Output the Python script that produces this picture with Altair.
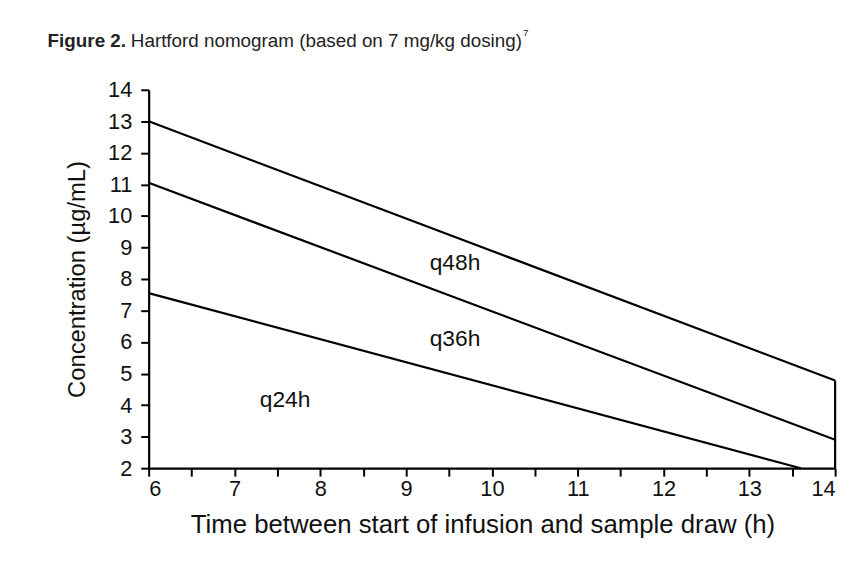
import altair as alt
import pandas as pd

# Nomogram boundary lines (time h, concentration µg/mL)
series = ["q48h upper", "q48h upper", "q36h upper", "q36h upper", "q24h upper", "q24h upper", "edge", "edge"]
times = [6, 14, 6, 14, 6, 13.6, 14, 14]
concs = [13.0, 4.78, 11.05, 2.9, 7.55, 2.0, 2.0, 4.78]

zone_labels = ["q48h", "q36h", "q24h"]
zone_x = [9.57, 9.57, 7.59]
zone_y = [8.5, 6.1, 4.15]

x_ticks = [6 + 0.5 * i for i in range(17)]
y_ticks = list(range(2, 15))

lines_df = pd.DataFrame({"series": series, "time": times, "conc": concs})
labels_df = pd.DataFrame({"label": zone_labels, "time": zone_x, "conc": zone_y})

FONT = "Liberation Sans"

x_enc = alt.X(
    "time:Q",
    scale=alt.Scale(domain=[6, 14], nice=False, zero=False),
    axis=alt.Axis(
        values=x_ticks,
        labelExpr="datum.value % 1 == 0 ? format(datum.value, 'd') : ''",
        title="Time between start of infusion and sample draw (h)",
        grid=False,
        labelPadding=3,
        titlePadding=12,
        titleFontSize=26,
        titleX=337,
        titleAnchor="middle",
    ),
)
y_enc = alt.Y(
    "conc:Q",
    scale=alt.Scale(domain=[2, 14], nice=False, zero=False),
    axis=alt.Axis(
        values=y_ticks,
        format="d",
        title="Concentration (µg/mL)",
        grid=False,
        labelPadding=9,
        titlePadding=18,
        titleFontSize=24,
    ),
)

lines = alt.Chart(lines_df).mark_line(color="black", strokeWidth=2.2).encode(
    x=x_enc, y=y_enc, detail="series:N"
)

labels = alt.Chart(labels_df).mark_text(
    font=FONT, fontSize=23, color="#111", align="center", baseline="middle"
).encode(x=x_enc, y=y_enc, text="label:N")

title_df = pd.DataFrame({"t": ["Figure 2."]})
title_bold = alt.Chart(title_df).mark_text(
    font=FONT, fontSize=19, fontWeight="bold", align="left", baseline="alphabetic", color="#222"
).encode(x=alt.value(-102), y=alt.value(-43), text="t:N")

title_rest_df = pd.DataFrame({"t": ["Hartford nomogram (based on 7 mg/kg dosing)"]})
title_rest = alt.Chart(title_rest_df).mark_text(
    font=FONT, fontSize=19, align="left", baseline="alphabetic", color="#222"
).encode(x=alt.value(-18), y=alt.value(-43), text="t:N")

sup_df = pd.DataFrame({"t": ["7"]})
title_sup = alt.Chart(sup_df).mark_text(
    font=FONT, fontSize=10, align="left", baseline="alphabetic", color="#222"
).encode(x=alt.value(378), y=alt.value(-54), text="t:N")

chart = (
    alt.layer(lines, labels, title_bold, title_rest, title_sup)
    .properties(
        width=693,
        height=382,
        autosize=alt.AutoSizeParams(type="none"),
        padding={"left": 142, "top": 80, "right": 13, "bottom": 76},
        background="white",
    )
    .configure_view(stroke=None)
    .configure_axis(
        domainColor="black",
        domainWidth=2.2,
        tickColor="black",
        tickWidth=2,
        tickSize=8,
        labelFont=FONT,
        labelFontSize=22,
        labelColor="#111",
        labelOverlap=False,
        titleFont=FONT,
        titleFontWeight="normal",
        titleColor="#111",
    )
)

chart.save("out.html", embed_options={"renderer": "svg", "actions": False})
